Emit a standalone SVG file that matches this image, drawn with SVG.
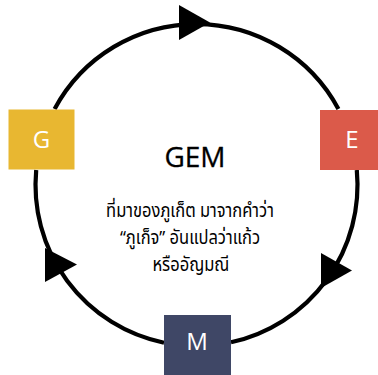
<svg xmlns="http://www.w3.org/2000/svg" width="378" height="375" viewBox="0 0 378 375">
<style>
.arc{fill:none;stroke:#000;stroke-width:4.2}
.head{fill:#000}
.lbl{font-family:"Open Sans","Noto Sans",sans-serif;font-size:24px;fill:#fff;text-anchor:middle}
.title{font-family:"Open Sans","Noto Sans",sans-serif;font-size:28px;fill:#000;text-anchor:middle;stroke:#000;stroke-width:0.3}
.body{font-family:"Noto Sans Thai","Noto Sans","DejaVu Sans",sans-serif;font-size:19px;fill:#000;text-anchor:middle}
</style>
<rect width="378" height="375" fill="#fff"/>
<g id="connectors">
<path class="arc" d="M54.6,109 A161,161 0 0 1 338.4,109"/>
<path class="arc" d="M356.8,170 A161,161 0 0 1 231,342.3"/>
<path class="arc" d="M164,342.7 A161,161 0 0 1 36.2,170"/>
<polygon class="head" points="179,5 210,22.5 179,40"/>
<polygon class="head" points="321,253 352,270.5 321,288"/>
<polygon class="head" points="45,248 77,264.5 45,282"/>
</g>
<g id="node-G">
<rect x="8.5" y="109.5" width="66" height="60" fill="#E8B731"/>
<text class="lbl" x="41.5" y="148">G</text>
</g>
<g id="node-E">
<rect x="320" y="110" width="58" height="60" fill="#DB5A4A"/>
<text class="lbl" x="352" y="148">E</text>
</g>
<g id="node-M">
<rect x="164" y="315" width="67" height="60" fill="#3F4766"/>
<text class="lbl" x="197" y="350">M</text>
</g>
<g id="center">
<text class="title" x="195" y="167">GEM</text>
<g transform="translate(190,0) scale(0.87,1)">
<text class="body" x="0" y="217">ที่มาของภูเก็ต มาจากคำว่า</text>
<text class="body" x="0" y="244">“ภูเก็จ” อันแปลว่าแก้ว</text>
<text class="body" x="1" y="271">หรืออัญมณี</text>
</g>
</g>
</svg>
